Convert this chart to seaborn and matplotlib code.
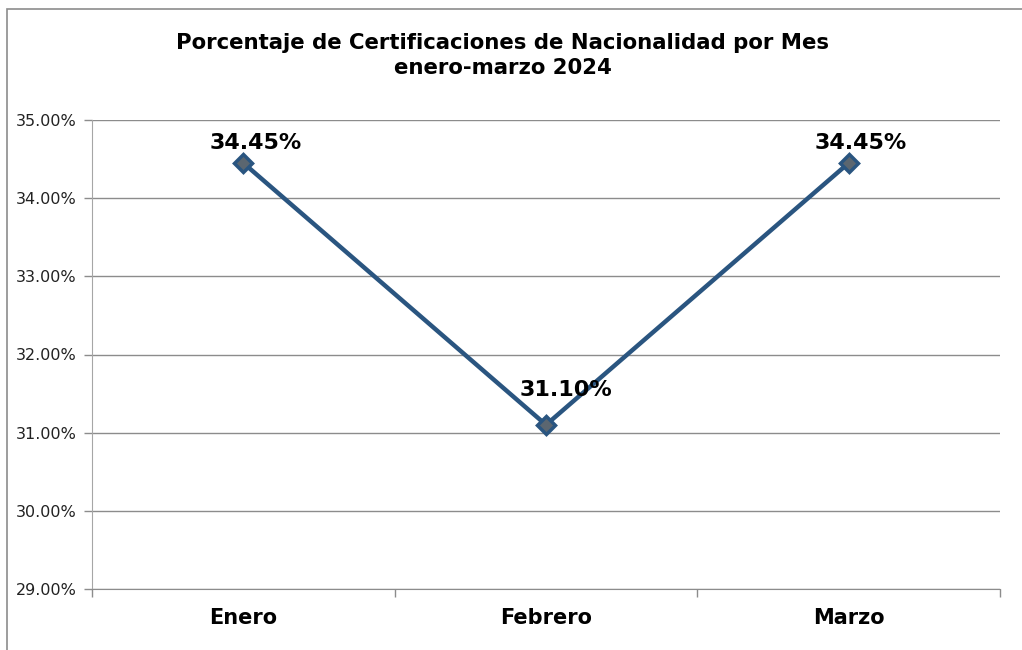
import matplotlib
matplotlib.use("Agg")
import matplotlib.pyplot as plt
import seaborn as sns
import pandas as pd
from matplotlib.patches import Rectangle
from matplotlib.ticker import FuncFormatter, FixedLocator

# Data
meses = ["Enero", "Febrero", "Marzo"]
porcentajes = [34.45, 31.10, 34.45]
titulo = "Porcentaje de Certificaciones de Nacionalidad por Mes\nenero-marzo 2024"

df = pd.DataFrame({"mes": meses, "pct": porcentajes})

sns.set_style("white")
plt.rcParams["font.family"] = ["DejaVu Sans"]

fig = plt.figure(figsize=(10.22, 6.5), dpi=100)
ax = fig.add_axes([92 / 1022, 61 / 650, 908 / 1022, 469 / 650])

# outer chart border (Excel style)
fig.patches.append(Rectangle((7 / 1022, -0.1), 1.2, (650 - 9) / 650 + 0.1,
                             transform=fig.transFigure, fill=False,
                             edgecolor="#8c8c8c", linewidth=1.2))

line_color = "#2a5580"
sns.lineplot(data=df, x="mes", y="pct", ax=ax, color=line_color, linewidth=3.2,
             marker="D", markersize=9, markerfacecolor="#5b6670",
             markeredgecolor=line_color, markeredgewidth=2.5, sort=False)

ax.set_xlim(-0.5, 2.5)
ax.set_ylim(29, 35)
ax.set_yticks(range(29, 36))
ax.yaxis.set_major_formatter(FuncFormatter(lambda v, _: f"{v:.2f}%"))
ax.yaxis.grid(True, color="#8c8c8c", linewidth=1)
ax.xaxis.grid(False)

ax.set_xticks(range(len(meses)))
ax.set_xticklabels(meses, fontsize=15, fontweight="bold", color="black")
ax.xaxis.set_minor_locator(FixedLocator([-0.5, 0.5, 1.5, 2.5]))
ax.tick_params(axis="x", which="major", length=0, pad=14, bottom=True)
ax.tick_params(axis="x", which="minor", length=6, width=1, color="#8c8c8c",
               direction="out", bottom=True)
ax.tick_params(axis="y", which="major", length=6, width=1, color="#8c8c8c",
               direction="out", left=True, labelsize=11.5, labelcolor="#222222", pad=5)
ax.set_xlabel("")
ax.set_ylabel("")

for side in ["top", "right"]:
    ax.spines[side].set_visible(False)
ax.spines["left"].set_color("#a6a6a6")
ax.spines["bottom"].set_color("#8c8c8c")

offsets = [(9, 7), (14, 18), (9, 7)]
for i, (v, off) in enumerate(zip(porcentajes, offsets)):
    ax.annotate(f"{v:.2f}%", (i, v), xytext=off, textcoords="offset points",
                ha="center", va="bottom", fontsize=16, fontweight="bold",
                color="black")

fig.text(0.492, 0.949, titulo, ha="center", va="top", fontsize=15.3,
         fontweight="bold", linespacing=1.32, color="black")

fig.savefig("out.png", dpi=100)
